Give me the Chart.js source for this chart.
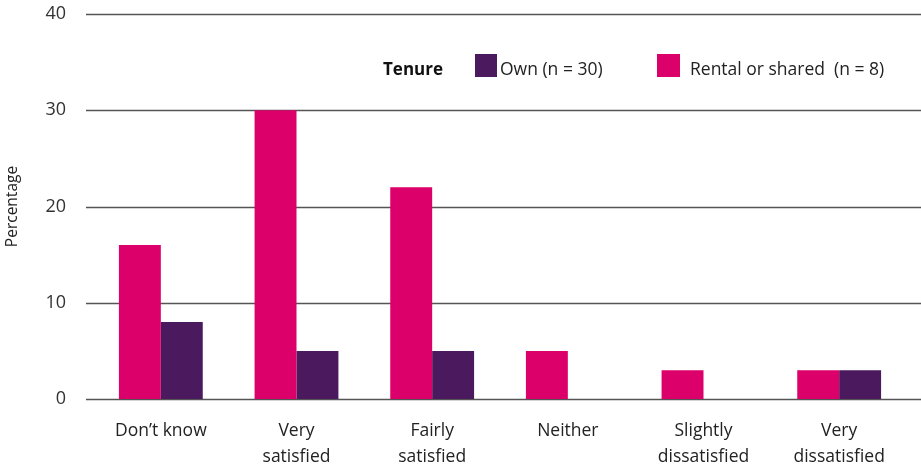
<!DOCTYPE html>
<html>
<head>
<meta charset="utf-8">
<script src="https://cdn.jsdelivr.net/npm/chart.js@4"></script>
<style>
html,body{margin:0;padding:0;background:#fff;}
#wrap{width:921px;height:466px;position:relative;}
</style>
</head>
<body>
<div id="wrap"><canvas id="c" width="921" height="466"></canvas></div>
<script>
const categories = [["Don\u2019t know"], ["Very", "satisfied"], ["Fairly", "satisfied"], ["Neither"], ["Slightly", "dissatisfied"], ["Very", "dissatisfied"]];
const rentalValues = [16, 30, 22, 5, 3, 3];
const ownValues = [8, 5, 5, 0, 0, 3];
const yTicks = [0, 10, 20, 30, 40];
const legendTitle = "Tenure";
const ownLabel = "Own (n = 30)";
const rentalLabel = "Rental or shared  (n = 8)";

const PINK = "#DC006B";
const PURPLE = "#4A195E";
const FONT = "'Open Sans', Lato, sans-serif";

const gridPlugin = {
  id: "wideGrid",
  beforeDatasetsDraw(chart) {
    const ctx = chart.ctx;
    const y = chart.scales.y;
    ctx.save();
    ctx.strokeStyle = "#555555";
    ctx.lineWidth = 1.6;
    yTicks.forEach(v => {
      const py = Math.round(y.getPixelForValue(v)) + 0.5;
      ctx.beginPath();
      ctx.moveTo(86, py);
      ctx.lineTo(921, py);
      ctx.stroke();
    });
    ctx.restore();
  }
};

const legendPlugin = {
  id: "customLegend",
  afterDraw(chart) {
    const ctx = chart.ctx;
    ctx.save();
    ctx.textBaseline = "middle";
    ctx.fillStyle = "#111";
    ctx.font = "bold 17px " + FONT;
    ctx.fillText(legendTitle, 383, 70);
    ctx.fillStyle = PURPLE;
    ctx.fillRect(475, 54, 22, 23);
    ctx.fillStyle = "#222";
    ctx.font = "17.5px " + FONT;
    ctx.fillText(ownLabel, 500, 70);
    ctx.fillStyle = PINK;
    ctx.fillRect(657, 54, 23, 23);
    ctx.fillStyle = "#222";
    ctx.fillText(rentalLabel, 690, 70);
    ctx.restore();
  }
};

new Chart(document.getElementById("c"), {
  type: "bar",
  data: {
    labels: categories,
    datasets: [
      { label: rentalLabel, data: rentalValues, backgroundColor: PINK, borderWidth: 0 },
      { label: ownLabel, data: ownValues, backgroundColor: PURPLE, borderWidth: 0 }
    ]
  },
  options: {
    responsive: false,
    animation: false,
    layout: { padding: { left: 0, right: 14, top: 14, bottom: 0 } },
    plugins: { legend: { display: false }, tooltip: { enabled: false } },
    datasets: { bar: { barPercentage: 1.0, categoryPercentage: 0.618 } },
    scales: {
      x: {
        grid: { display: false, drawTicks: false },
        border: { display: false },
        ticks: { color: "#222", font: { family: FONT, size: 17.5, lineHeight: 1.49 }, padding: 19, maxRotation: 0, autoSkip: false },
        afterFit(s) { s.height = 67; s.paddingLeft = 0; s.paddingRight = 0; }
      },
      y: {
        min: 0, max: 40,
        grid: { display: false, drawTicks: false },
        border: { display: false },
        ticks: { stepSize: 10, color: "#333", font: { family: FONT, size: 18 }, padding: 27 },
        title: { display: true, text: "Percentage", color: "#222", font: { family: FONT, size: 15.5 }, padding: { top: 3, bottom: 0 } },
        afterFit(s) { s.width = 93; s.paddingTop = 0; s.paddingBottom = 0; }
      }
    }
  },
  plugins: [gridPlugin, legendPlugin]
});
</script>
</body>
</html>
